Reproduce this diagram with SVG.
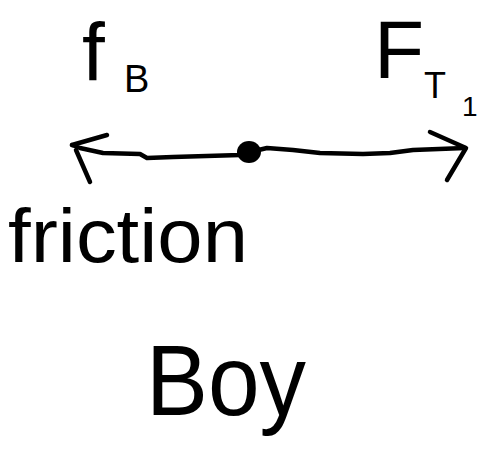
<svg xmlns="http://www.w3.org/2000/svg" width="482" height="454" viewBox="0 0 482 454">
<style>
.t{font-family:"Liberation Sans",Arial,sans-serif;fill:#000}
.s{fill:none;stroke:#000;stroke-width:4.5;stroke-linecap:round;stroke-linejoin:round}
</style>
<rect width="482" height="454" fill="#fff"/>
<g id="connectors">
<path class="s" d="M72,145 L80,148 L103,153 L140,154 L147,158 L173,157 L240,155 L250,152 L267,148 L293,150 L320,153 L363,154 L390,153 L413,150 L465,148"/>
<path class="s" d="M72,145 L107,135 M76,150 L90,182"/>
<path class="s" d="M430,132 L466,148 L447,180"/>
</g>
<g id="point">
<ellipse cx="249" cy="152" rx="12" ry="11" fill="#000"/>
</g>
<g id="label-fB">
<text class="t" x="82" y="80" font-size="82">f</text>
<text class="t" x="124" y="92" font-size="38">B</text>
</g>
<g id="label-FT1">
<text class="t" x="374" y="78" font-size="82">F</text>
<text class="t" x="424" y="98" font-size="36">T</text>
<text class="t" x="462" y="116" font-size="28">1</text>
</g>
<g id="label-friction">
<text class="t" x="8" y="262" font-size="76" textLength="240" lengthAdjust="spacingAndGlyphs">friction</text>
</g>
<g id="label-boy">
<text class="t" x="146" y="415" font-size="100" textLength="160" lengthAdjust="spacingAndGlyphs">Boy</text>
</g>
</svg>
